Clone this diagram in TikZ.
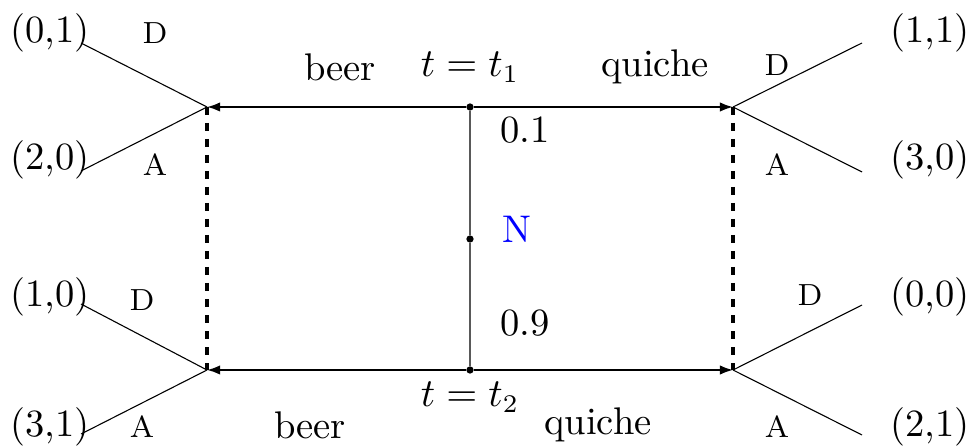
\documentclass[tikz,border=0pt]{standalone}
\usetikzlibrary{arrows.meta}
\begin{document}
\begin{tikzpicture}[x=0.275pt,y=-0.275pt,
  dot/.style={circle,fill,inner sep=0pt,minimum size=2pt},
  main/.style={line width=0.55pt,-{Latex[length=3.6pt,width=2.6pt]}},
  branch/.style={line width=0.3pt},
  info/.style={line width=0.85pt,dash pattern=on 2.1pt off 2.3pt},
  lbl/.style={inner sep=0pt,font=\fontsize{10.6pt}{12pt}\selectfont},
  act/.style={inner sep=0pt,font=\fontsize{8.4pt}{10pt}\selectfont}]
\useasboundingbox (0,0) rectangle (974,447);
% nature and type nodes
\node[dot] (t1) at (470,107) {};
\node[dot] (n) at (470,239) {};
\node[dot] (t2) at (470,370) {};
\coordinate (lt) at (207,107);
\coordinate (rt) at (733,107);
\coordinate (lb) at (207,370);
\coordinate (rb) at (733,370);
% leaf ends
\coordinate (ltD) at (81,43);
\coordinate (ltA) at (81,171);
\coordinate (rtD) at (862,43);
\coordinate (rtA) at (862,172);
\coordinate (lbD) at (81,304);
\coordinate (lbA) at (81,434);
\coordinate (rbD) at (862,305);
\coordinate (rbA) at (862,435);
% edges
\draw[line width=0.45pt,gray!70!black] (t1) -- (n) -- (t2);
\draw[main] (t1) -- (lt);
\draw[main] (t1) -- (rt);
\draw[main] (t2) -- (lb);
\draw[main] (t2) -- (rb);
\draw[info] (lt) -- (lb);
\draw[info] (rt) -- (rb);
\draw[branch] (lt) -- (ltD);
\draw[branch] (lt) -- (ltA);
\draw[branch] (rt) -- (rtD);
\draw[branch] (rt) -- (rtA);
\draw[branch] (lb) -- (lbD);
\draw[branch] (lb) -- (lbA);
\draw[branch] (rb) -- (rbD);
\draw[branch] (rb) -- (rbA);
% payoffs
\node[lbl] (p1) at (50,33) {(0,1)};
\node[lbl] (p2) at (50,160) {(2,0)};
\node[lbl] (p3) at (930,33) {(1,1)};
\node[lbl] (p4) at (930,160) {(3,0)};
\node[lbl] (p5) at (50,297) {(1,0)};
\node[lbl] (p6) at (50,427) {(3,1)};
\node[lbl] (p7) at (930,297) {(0,0)};
\node[lbl] (p8) at (930,427) {(2,1)};
% actions
\node[act] (a1) at (155,33) {D};
\node[act] (a2) at (155,165) {A};
\node[act] (a3) at (777,65) {D};
\node[act] (a4) at (777,165) {A};
\node[act] (a5) at (142,300) {D};
\node[act] (a6) at (142,427) {A};
\node[act] (a7) at (810,295) {D};
\node[act] (a8) at (777,427) {A};
% messages and types
\node[lbl] (b1) at (340,67) {beer};
\node[lbl] (q1) at (655,67) {quiche};
\node[lbl] (b2) at (310,425) {beer};
\node[lbl] (q2) at (598,425) {quiche};
\node[lbl] (tt1) at (470,67) {$t=t_1$};
\node[lbl] (tt2) at (470,397) {$t=t_2$};
\node[lbl] (pr1) at (525,130) {0.1};
\node[lbl] (pr2) at (525,323) {0.9};
\node[lbl,text=blue] (nl) at (517,229) {N};
\end{tikzpicture}
\end{document}
